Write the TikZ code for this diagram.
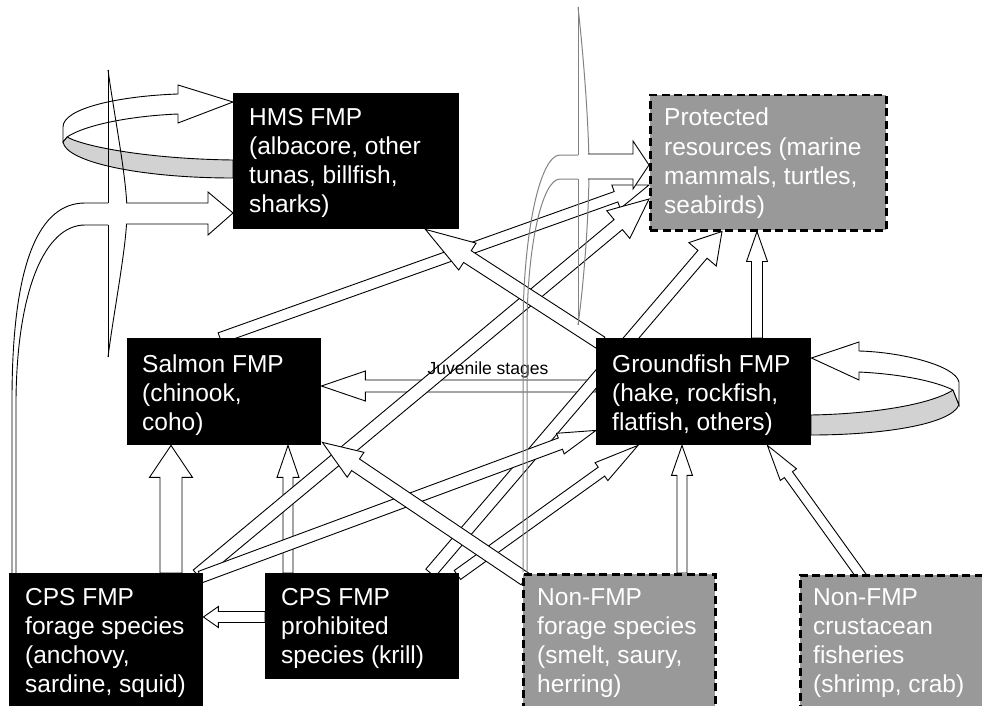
\documentclass[tikz,border=0pt]{standalone}
\usepackage{fontspec}
\setmainfont{Liberation Sans}
\usepackage{tikz}
\usetikzlibrary{calc,positioning,backgrounds}

\definecolor{boxgray}{RGB}{153,153,153}
\definecolor{bandgray}{RGB}{210,210,210}
\definecolor{ribbongray}{RGB}{130,130,130}

% hollow block arrow: [opts]{from}{to}{half shaft}{half head}{head length}
\newcommand{\blockarrow}[6][]{%
  \coordinate (ba-s) at (#2);
  \coordinate (ba-t) at (#3);
  \coordinate (ba-h) at ($(ba-t)!#6!(ba-s)$);
  \draw[flow,#1] ($(ba-s)!#4!90:(ba-t)$) -- ($(ba-h)!#4!90:(ba-t)$) -- ($(ba-h)!#5!90:(ba-t)$) -- (ba-t)
    -- ($(ba-h)!#5!-90:(ba-t)$) -- ($(ba-h)!#4!-90:(ba-t)$) -- ($(ba-s)!#4!-90:(ba-t)$) -- cycle;
}

\begin{document}
\begin{tikzpicture}[
    x=1pt, y=-1pt,
    fmpbox/.style={rectangle, fill=black, inner sep=0pt, anchor=north west},
    otherbox/.style={rectangle, fill=boxgray, draw=black, line width=2.5pt, dash pattern=on 8pt off 4.5pt, inner sep=0pt, anchor=north west},
    boxtext/.style={text=white, font=\fontsize{24.5}{29.3}\selectfont, anchor=base west, inner sep=0pt},
    note/.style={font=\fontsize{17.5}{20}\selectfont, inner sep=0pt, anchor=base},
    flow/.style={draw=black, fill=white, line width=0.9pt},
    band/.style={draw=black, fill=bandgray, line width=0.9pt},
    ribbon/.style={draw=ribbongray, line width=1pt}
]
\useasboundingbox (0,0) rectangle (982,706);
\clip (0,0) rectangle (982,706);

% Boxes
\node[fmpbox, minimum width=226pt, minimum height=136pt] (hms) at (233,93) {};
\node[otherbox, minimum width=236pt, minimum height=135pt] (prot) at (649,94) {};
\node[fmpbox, minimum width=194pt, minimum height=107pt] (salmon) at (127,338) {};
\node[fmpbox, minimum width=215pt, minimum height=107pt] (ground) at (596,338) {};
\node[fmpbox, minimum width=194pt, minimum height=150pt] (cpsf) at (9,573) {};
\node[fmpbox, minimum width=194pt, minimum height=106pt] (cpsp) at (265,573) {};
\node[otherbox, minimum width=192pt, minimum height=150pt] (nonf) at (522,573) {};
\node[otherbox, minimum width=210pt, minimum height=150pt] (nonc) at (799,574) {};

\node[boxtext] (hms-t) at ([xshift=16pt,yshift=-32pt]hms.north west) {\parbox[t]{215pt}{HMS FMP\\(albacore, other\\tunas, billfish,\\sharks)}};
\node[boxtext] (prot-t) at ([xshift=15pt,yshift=-32pt]prot.north west) {\parbox[t]{220pt}{Protected\\resources (marine\\mammals, turtles,\\seabirds)}};
\node[boxtext] (salmon-t) at ([xshift=15pt,yshift=-34pt]salmon.north west) {\parbox[t]{180pt}{Salmon FMP\\(chinook,\\coho)}};
\node[boxtext] (ground-t) at ([xshift=16pt,yshift=-34pt]ground.north west) {\parbox[t]{200pt}{Groundfish FMP\\(hake, rockfish,\\flatfish, others)}};
\node[boxtext] (cpsf-t) at ([xshift=16pt,yshift=-32pt]cpsf.north west) {\parbox[t]{180pt}{CPS FMP\\forage species\\(anchovy,\\sardine, squid)}};
\node[boxtext] (cpsp-t) at ([xshift=16pt,yshift=-32pt]cpsp.north west) {\parbox[t]{180pt}{CPS FMP\\prohibited\\species (krill)}};
\node[boxtext] (nonf-t) at ([xshift=15pt,yshift=-32pt]nonf.north west) {\parbox[t]{180pt}{Non-FMP\\forage species\\(smelt, saury,\\herring)}};
\node[boxtext] (nonc-t) at ([xshift=14pt,yshift=-31pt]nonc.north west) {\parbox[t]{180pt}{Non-FMP\\crustacean\\fisheries\\(shrimp, crab)}};

\begin{scope}[on background layer]
% Straight links
\blockarrow{171,0 |- cpsf.north}{171,0 |- salmon.south}{11pt}{21.5pt}{32pt}
\blockarrow{288,0 |- cpsp.north}{288,0 |- salmon.south}{5pt}{11pt}{32pt}
\blockarrow{[yshift=-44pt]cpsp.north west}{[yshift=-44pt]cpsf.north east}{5.5pt}{10.5pt}{15pt}
\blockarrow{[yshift=-48pt]ground.north west}{[yshift=-48pt]salmon.north east}{6pt}{15pt}{44pt}
\blockarrow{682,0 |- nonf.north}{682,0 |- ground.south}{5pt}{10.5pt}{30pt}
\blockarrow{[xshift=63pt,yshift=-3pt]nonc.north west}{[xshift=-44pt]ground.south east}{5pt}{10pt}{36pt}
\blockarrow{757,0 |- ground.north}{757,0 |- prot.south}{5.5pt}{10.5pt}{30pt}
\blockarrow{[xshift=93pt]salmon.north west}{[yshift=-91pt]prot.north west}{5.5pt}{12.5pt}{35pt}
\blockarrow{[xshift=-6pt,yshift=-2pt]cpsf.north east}{[yshift=-105pt]prot.north west}{6.5pt}{18pt}{40pt}
\blockarrow{[xshift=-29pt]cpsp.north east}{[xshift=73pt]prot.south west}{6pt}{18pt}{30pt}
\blockarrow{[xshift=5pt,yshift=-5pt]ground.north west}{[xshift=-34pt]hms.south east}{7pt}{16pt}{50pt}
\blockarrow{[xshift=-2pt,yshift=-2pt]cpsp.north east}{[xshift=42pt]ground.south west}{5.5pt}{11pt}{45pt}
\blockarrow{[xshift=-3pt,yshift=-4pt]cpsf.north east}{[yshift=15pt]ground.south west}{6pt}{11pt}{38pt}
\blockarrow{[xshift=3pt,yshift=-6pt]nonf.north west}{[xshift=1pt,yshift=3pt]salmon.south east}{7pt}{15pt}{40pt}

% Self loops
\draw[band] (233,160) .. controls (150,159) and (85,147) .. (67,137) -- (63,142)
  .. controls (66,162) and (140,178) .. (233,178) -- cycle;
\draw[flow] (63,142) -- (63,127) .. controls (63,108) and (120,96) .. (178,94) -- (178,85) -- (hms.west |- 0,102)
  -- (178,123) -- (178,114) .. controls (130,116) and (85,125) .. (67,137) -- cycle;
\draw[band] (811,415) .. controls (870,414) and (930,405) .. (953,390) -- (959,405)
  .. controls (950,425) and (880,435) .. (811,435) -- cycle;
\draw[flow] (959,405) -- (959,382) .. controls (955,365) and (900,352) .. (859,351) -- (859,342) -- (ground.east |- 0,358)
  -- (859,380) -- (859,372) .. controls (900,374) and (935,381) .. (953,390) -- cycle;

% Bent link from CPS forage to HMS
\draw[flow] (12,573) -- (12,400) .. controls (12,260) and (40,203) .. (85,203) -- (108,203);
\draw[flow] (16,573) -- (16,400) .. controls (17,290) and (45,225) .. (85,225) -- (108,225);
\draw[flow] (108,70) -- (108,203) (108,225) -- (108,357);
\draw[flow, fill=none] (108,70) .. controls (115,120) and (127,180) .. (127,212) .. controls (127,245) and (114,310) .. (108,357);
\draw[flow] (126,203) -- (208,203) -- (208,192) -- (hms.west |- 0,213) -- (208,235) -- (208,224) -- (126,224);
\end{scope}

% Label
\node[note] (juv) at ([xshift=-108pt,yshift=-36pt]ground.north west) {Juvenile stages};

% Bent link from Non-FMP forage to protected resources
\draw[ribbon] (523,572) -- (523,330) .. controls (523,233) and (540,155) .. (560,155) -- (578,155);
\draw[ribbon] (527,572) -- (527,330) .. controls (527,247) and (542,179) .. (560,179) -- (578,179);
\draw[ribbon] (578,7) -- (578,155) (578,179) -- (578,325);
\draw[ribbon] (578,7) .. controls (584,60) and (589,130) .. (589,168) .. controls (589,220) and (583,290) .. (578,325);
\draw[flow] (588,154) -- (633,154) -- (633,141) -- (prot.west |- 0,165) -- (633,189) -- (633,179) -- (588,179);

\end{tikzpicture}
\end{document}
